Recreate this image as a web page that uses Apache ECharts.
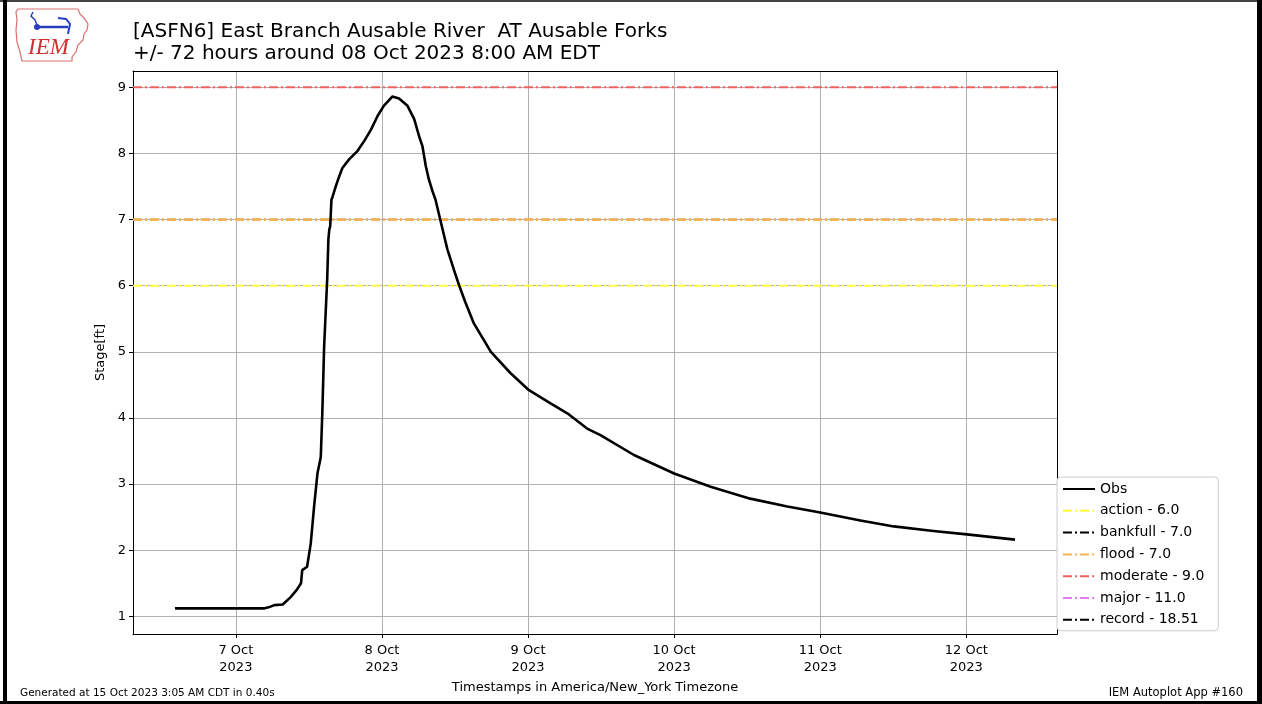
<!DOCTYPE html>
<html><head><meta charset="utf-8">
<script src="https://cdn.jsdelivr.net/npm/echarts@6/dist/echarts.min.js"></script>
<style>html,body{margin:0;padding:0;background:#fff}#c{width:1262px;height:704px}</style>
</head><body><div id="c"></div>
<script>
// ---- data ----
const titleText = '[ASFN6] East Branch Ausable River  AT Ausable Forks\n+/- 72 hours around 08 Oct 2023 8:00 AM EDT';
// hours relative to 2023-10-07 00:00 EDT
const obsHours = [-10, -6, 0, 4.6, 5.5, 6.3, 7.7, 9.0, 10.0, 10.7, 10.9, 11.7, 12.3, 12.85, 13.4, 13.95, 14.2, 14.5, 15.0, 15.2, 15.35, 15.5, 15.7, 15.9, 16.4, 17.0, 17.5, 18.6, 20.0, 21.1, 22.2, 23.3, 24.3, 25.7, 26.8, 28.2, 29.3, 30.1, 30.65, 31.2, 31.7, 32.3, 32.8, 33.65, 34.75, 36.0, 36.7, 37.7, 39.1, 41.9, 45.1, 48.15, 51.7, 54.45, 57.7, 59.9, 65.4, 72.0, 78.0, 84.5, 90.6, 96.0, 102.6, 108.1, 114.6, 120.1, 128.0];
const obsStage = [1.12, 1.12, 1.12, 1.12, 1.14, 1.17, 1.18, 1.29, 1.40, 1.50, 1.70, 1.75, 2.10, 2.66, 3.16, 3.41, 4.07, 5.08, 6.09, 6.70, 6.85, 6.90, 7.30, 7.35, 7.50, 7.66, 7.78, 7.91, 8.04, 8.19, 8.36, 8.57, 8.72, 8.86, 8.83, 8.72, 8.52, 8.26, 8.11, 7.81, 7.61, 7.43, 7.30, 6.97, 6.55, 6.19, 6.00, 5.75, 5.43, 5.00, 4.68, 4.42, 4.22, 4.07, 3.84, 3.74, 3.44, 3.16, 2.96, 2.78, 2.66, 2.57, 2.45, 2.36, 2.29, 2.24, 2.16];
const thresholdNames = ['action', 'bankfull', 'flood', 'moderate', 'major', 'record'];
const thresholdValues = [6.0, 7.0, 7.0, 9.0, 11.0, 18.51];
const thresholdColors = ['#ffff40', '#000000', '#f8b458', '#f06262', '#e080f0', '#000000'];
const dayTickHours = [0, 24, 48, 72, 96, 120];
const dayTickLabels = ['7 Oct\n2023', '8 Oct\n2023', '9 Oct\n2023', '10 Oct\n2023', '11 Oct\n2023', '12 Oct\n2023'];
const stageTicks = [1, 2, 3, 4, 5, 6, 7, 8, 9];
const xMin = -16.9, xMax = 134.9, yMin = 0.733, yMax = 9.247;

// ---- chart ----
const FONT = 'DejaVu Sans';
const chart = echarts.init(document.getElementById('c'), null, {renderer: 'canvas'});
const fmt = v => (Math.round(v) === v ? v.toFixed(1) : String(v));
const dashDot = [9, 3, 2, 3];

const series = [{
  name: 'Obs', type: 'line', symbol: 'none', z: 5,
  data: obsHours.map((h, i) => [h, obsStage[i]]),
  lineStyle: {color: '#000', width: 2.6, join: 'round'}, itemStyle: {color: '#000'}
}];
thresholdNames.forEach((n, i) => {
  series.push({
    name: n + ' - ' + fmt(thresholdValues[i]), type: 'line', symbol: 'none', z: 3,
    data: [[xMin, thresholdValues[i]], [xMax, thresholdValues[i]]],
    lineStyle: {color: thresholdColors[i], width: n === 'flood' ? 2.8 : (n === 'bankfull' ? 1.5 : 2), type: dashDot},
    itemStyle: {color: thresholdColors[i]}
  });
});

const axisCommonLine = {show: true, onZero: false, lineStyle: {color: '#000', width: 1}};
chart.setOption({
  animation: false,
  backgroundColor: '#fff',
  title: {
    text: titleText, left: 128, top: 16,
    textStyle: {fontFamily: FONT, fontSize: 20, fontWeight: 'normal', color: '#000', lineHeight: 22}
  },
  grid: {left: 133, right: 205, top: 71, bottom: 70, containLabel: false},
  legend: {
    orient: 'vertical', left: 1057, top: 477,
    itemWidth: 32, itemHeight: 14, itemGap: 7.8,
    padding: [5, 14, 4, 5],
    borderColor: '#cccccc', borderWidth: 1, borderRadius: 4,
    backgroundColor: '#fff',
    itemStyle: {opacity: 0, color: 'transparent', borderWidth: 0},
    textStyle: {fontFamily: FONT, fontSize: 14, color: '#000'},
    data: series.map(s => s.name)
  },
  xAxis: [{
    type: 'value', min: xMin, max: xMax,
    name: 'Timestamps in America/New_York Timezone', nameLocation: 'middle', nameGap: 47,
    nameTextStyle: {fontFamily: FONT, fontSize: 13, color: '#000'},
    axisLine: axisCommonLine,
    axisTick: {show: true, length: 4, customValues: dayTickHours, lineStyle: {color: '#000'}},
    axisLabel: {customValues: dayTickHours, margin: 8, fontFamily: FONT, fontSize: 13, color: '#000', lineHeight: 17,
      formatter: v => dayTickLabels[dayTickHours.indexOf(v)] || ''},
    splitLine: {show: true, lineStyle: {color: '#b0b0b0', width: 1}}
  }, {
    type: 'value', min: xMin, max: xMax, position: 'top',
    axisLine: axisCommonLine, axisTick: {show: false}, axisLabel: {show: false}, splitLine: {show: false}
  }],
  yAxis: [{
    type: 'value', min: yMin, max: yMax,
    name: 'Stage[ft]', nameLocation: 'middle', nameGap: 25, nameRotate: 90,
    nameTextStyle: {fontFamily: FONT, fontSize: 13, color: '#000'},
    axisLine: axisCommonLine,
    axisTick: {show: true, length: 4, customValues: stageTicks, lineStyle: {color: '#000'}},
    axisLabel: {customValues: stageTicks, margin: 7, fontFamily: FONT, fontSize: 13, color: '#000'},
    splitLine: {show: true, lineStyle: {color: '#b0b0b0', width: 1}}
  }, {
    type: 'value', min: yMin, max: yMax, position: 'right',
    axisLine: axisCommonLine, axisTick: {show: false}, axisLabel: {show: false}, splitLine: {show: false}
  }],
  series: series,
  graphic: [
    {type: 'rect', shape: {x: 0, y: 0, width: 1262, height: 2}, style: {fill: '#444'}, silent: true},
    {type: 'rect', shape: {x: 3, y: 0, width: 4, height: 704}, style: {fill: '#000'}, silent: true},
    {type: 'rect', shape: {x: 1257, y: 0, width: 5, height: 704}, style: {fill: '#000'}, silent: true},
    {type: 'rect', shape: {x: 0, y: 701, width: 1262, height: 3}, style: {fill: '#000'}, silent: true},
    // logo
    {type: 'polygon', silent: true, shape: {points: [[18,9],[78,9],[80,14],[84,18],[88,24],[87,30],[84,34],[83,40],[78,45],[76,52],[72,57],[72,61],[22,61],[20,52],[17,42],[16,30],[17,20],[16,12]]},
      style: {fill: '#fff', stroke: '#d87070', lineWidth: 1.2}},
    {type: 'line', silent: true, shape: {x1: 36, y1: 27, x2: 68, y2: 27}, style: {stroke: '#2a3fc0', lineWidth: 2.5}},
    {type: 'circle', silent: true, shape: {cx: 37, cy: 27, r: 3}, style: {fill: '#2a3fc0'}},
    {type: 'polyline', silent: true, shape: {points: [[33,12],[31,16],[35,20],[37,25]]}, style: {stroke: '#2a3fc0', lineWidth: 1.5, fill: null}},
    {type: 'polyline', silent: true, shape: {points: [[58,18],[66,19],[70,24],[68,34]]}, style: {stroke: '#2a3fc0', lineWidth: 2, fill: null}},
    {type: 'text', silent: true, left: 28, top: 36, style: {text: 'IEM', font: 'italic 23px "Liberation Serif"', fill: '#d03030'}},
    // footers
    {type: 'text', silent: true, left: 20, top: 688, style: {text: 'Generated at 15 Oct 2023 3:05 AM CDT in 0.40s', font: '10.5px "DejaVu Sans"', fill: '#000'}},
    {type: 'text', silent: true, right: 19, top: 687, style: {text: 'IEM Autoplot App #160', font: '11.5px "DejaVu Sans"', fill: '#000'}}
  ]
});
</script>
</body></html>
